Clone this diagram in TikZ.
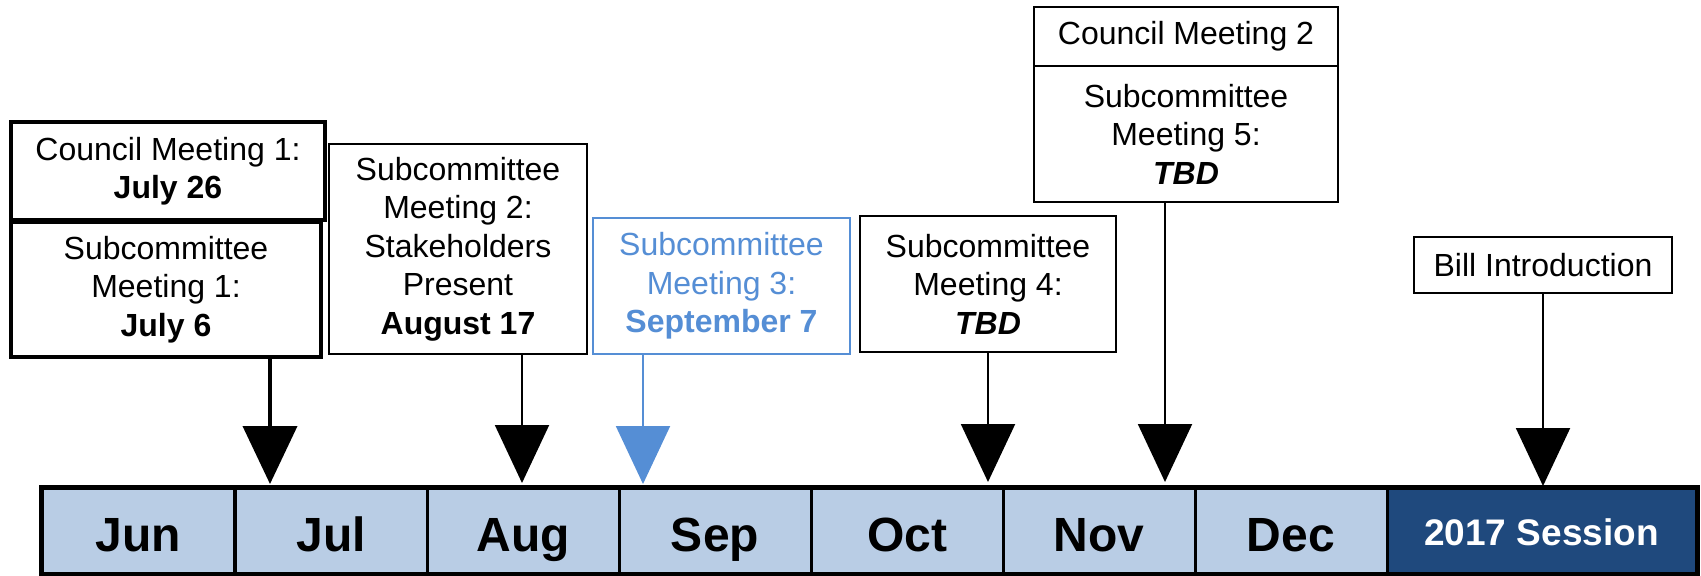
\documentclass[tikz,border=0pt]{standalone}
\usepackage{fontspec}
\setmainfont{Liberation Sans}
\usetikzlibrary{arrows.meta}
\definecolor{barfill}{HTML}{B9CDE5}
\definecolor{sessionblue}{HTML}{1F497D}
\definecolor{hl}{HTML}{558ED5}
\begin{document}
\begin{tikzpicture}[x=0.5pt,y=-0.5pt,
  box/.style={draw, line width=1pt, fill=white, inner sep=0pt, align=center,
    font=\fontsize{16}{19.2}\selectfont},
  thickbox/.style={box, line width=2pt},
  hlbox/.style={box, draw=hl, text=hl},
  cell/.style={draw, line width=1.5pt, fill=barfill, minimum width=96pt,
    minimum height=42.5pt, inner sep=0pt, text height=24pt, text depth=3.5pt,
    font=\bfseries\fontsize{24}{28}\selectfont},
  sescell/.style={cell, fill=sessionblue, text=white, minimum width=154.5pt,
    text height=18pt, text depth=3.5pt,
    font=\bfseries\fontsize{18.5}{22}\selectfont},
  conn/.style={line width=1pt, -{Triangle[length=29pt,width=27pt]}},
]
\useasboundingbox (0,0) rectangle (1701,575);
% timeline bar
\node[cell] (jun) at (138.5,530.5) {Jun};
\node[cell] (jul) at (331,530.5) {Jul};
\node[cell] (aug) at (523,530.5) {Aug};
\node[cell] (sep) at (715,530.5) {Sep};
\node[cell] (oct) at (907,530.5) {Oct};
\node[cell] (nov) at (1099,530.5) {Nov};
\node[cell] (dec) at (1291,530.5) {Dec};
\node[sescell] (ses) at (1541.5,530.5) {2017 Session};
\draw[line width=2pt] (jun.north west) rectangle (ses.south east);
% boxes
\node[thickbox, minimum width=157pt, minimum height=49pt] (cm1) at (168,171)
  {Council Meeting 1:\\\textbf{July 26}};
\node[thickbox, minimum width=155pt, minimum height=67.5pt] (sm1) at (166,289.5)
  {Subcommittee\\Meeting 1:\\\textbf{July 6}};
\node[box, minimum width=129pt, minimum height=105pt] (sm2) at (458,249)
  {Subcommittee\\Meeting 2:\\Stakeholders\\Present\\\textbf{August 17}};
\node[hlbox, minimum width=128.5pt, minimum height=68pt] (sm3) at (721.5,286)
  {Subcommittee\\Meeting 3:\\\textbf{September 7}};
\node[box, minimum width=128pt, minimum height=68pt] (sm4) at (988,284)
  {Subcommittee\\Meeting 4:\\\textbf{\textit{TBD}}};
\node[box, minimum width=152pt, minimum height=29.5pt] (cm2) at (1186,36.5)
  {Council Meeting 2};
\node[box, minimum width=152pt, minimum height=68pt] (sm5) at (1186,134)
  {Subcommittee\\Meeting 5:\\\textbf{\textit{TBD}}};
\node[box, minimum width=129pt, minimum height=28pt] (bill) at (1543,265)
  {Bill Introduction};
% arrow tips
\coordinate (t1) at (270,484);
\coordinate (t2) at (522,483);
\coordinate (t3) at (643,484);
\coordinate (t4) at (988,482);
\coordinate (t5) at (1165,482);
\coordinate (t6) at (1543,486);
\draw[conn, line width=2pt] (sm1.south -| t1) -- (t1);
\draw[conn] (sm2.south -| t2) -- (t2);
\draw[conn, draw=hl, fill=hl] (sm3.south -| t3) -- (t3);
\draw[conn] (sm4.south -| t4) -- (t4);
\draw[conn] (sm5.south -| t5) -- (t5);
\draw[conn] (bill.south -| t6) -- (t6);
\end{tikzpicture}
\end{document}
